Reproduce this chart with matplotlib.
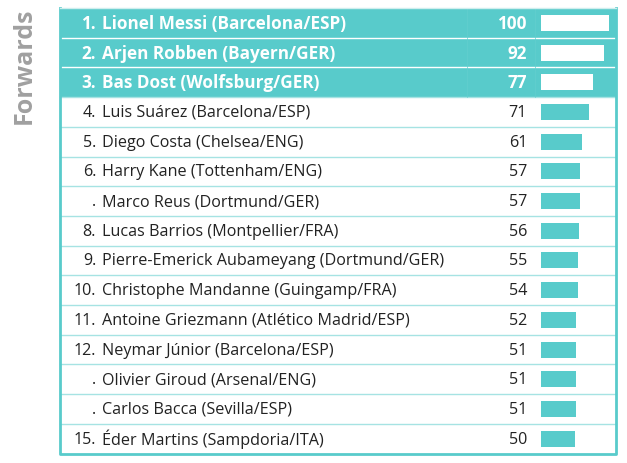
import matplotlib.pyplot as plt

# data
ranks = ["1.", "2.", "3.", "4.", "5.", "6.", ".", "8.", "9.", "10.", "11.", "12.", ".", ".", "15."]
players = ["Lionel Messi (Barcelona/ESP)", "Arjen Robben (Bayern/GER)", "Bas Dost (Wolfsburg/GER)",
           "Luis Suárez (Barcelona/ESP)", "Diego Costa (Chelsea/ENG)", "Harry Kane (Tottenham/ENG)",
           "Marco Reus (Dortmund/GER)", "Lucas Barrios (Montpellier/FRA)",
           "Pierre-Emerick Aubameyang (Dortmund/GER)", "Christophe Mandanne (Guingamp/FRA)",
           "Antoine Griezmann (Atlético Madrid/ESP)", "Neymar Júnior (Barcelona/ESP)",
           "Olivier Giroud (Arsenal/ENG)", "Carlos Bacca (Sevilla/ESP)", "Éder Martins (Sampdoria/ITA)"]
points = [100, 92, 77, 71, 61, 57, 57, 56, 55, 54, 52, 51, 51, 51, 50]
n_top = 3

teal = "#58cbcb"
light = "#a6e3e3"

plt.rcParams['font.family'] = ['Open Sans', 'DejaVu Sans']

fig = plt.figure(figsize=(6.27, 4.64), dpi=100)
ax = fig.add_axes([0, 0, 1, 1])
ax.set_xlim(0, 627)
ax.set_ylim(464, 0)
ax.axis('off')

x0, x1 = 60, 616
y0, row_h = 9, 29.7
ys = [y0 + row_h * (i + 0.5) for i in range(len(points))]

# top rows filled
ax.barh(ys[:n_top], x1 - x0, left=x0, height=row_h, color=teal, edgecolor='none', zorder=1)
for i in range(1, len(points)):
    yy = y0 + row_h * i
    c = 'white' if i < n_top else light
    ax.plot([x0, x1], [yy, yy], color=c, lw=1, zorder=2)
for xx in [467, 535]:
    ax.plot([xx, xx], [y0, y0 + row_h * n_top], color='#63cfcf', lw=0.5, zorder=2)

# frame
y_end = y0 + row_h * len(points)
ax.plot([x0, x0, x1, x1], [y0, y_end, y_end, y0], color=teal, lw=2, zorder=3)
ax.plot([x0, x1], [y0, y0], color='#cfeeee', lw=1, zorder=3)

# bars
bar_cols = ['white'] * n_top + [teal] * (len(points) - n_top)
ax.barh(ys, [p * 0.68 for p in points], left=541, height=16, color=bar_cols, zorder=4)

for i, (r, name, p) in enumerate(zip(ranks, players, points)):
    top = i < n_top
    col = 'white' if top else '#222222'
    fw = 'bold' if top else 'normal'
    fs = 12.3 if top else 11.6
    ax.text(96, ys[i], r, ha='right', va='center', color=col, fontweight=fw, fontsize=fs, zorder=5)
    ax.text(102, ys[i], name, ha='left', va='center', color=col, fontweight=fw, fontsize=fs, zorder=5)
    ax.text(527, ys[i], str(p), ha='right', va='center', color=col, fontweight=fw, fontsize=fs, zorder=5)

ax.text(24, 66, "Forwards", rotation=90, ha='center', va='center', color='#a0a0a0',
        fontweight='bold', fontsize=18)

fig.savefig("out.png", dpi=100)
